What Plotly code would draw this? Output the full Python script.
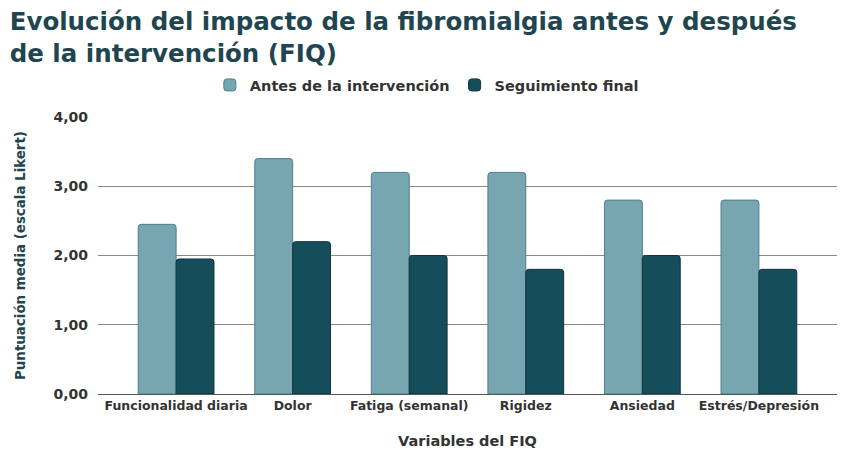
import plotly.graph_objects as go

categorias = ["Funcionalidad diaria", "Dolor", "Fatiga (semanal)", "Rigidez",
              "Ansiedad", "Estrés/Depresión"]
antes = [2.45, 3.4, 3.2, 3.2, 2.8, 2.8]
seguimiento = [1.95, 2.2, 2.0, 1.8, 2.0, 1.8]

fuente = "DejaVu Sans, Verdana, sans-serif"

fig = go.Figure()
fig.add_trace(go.Bar(
    x=categorias, y=antes, name="<b>Antes de la intervención</b>",
    marker=dict(color="#77A5B0", line=dict(color="#4F7F8A", width=1), cornerradius=3)
))
fig.add_trace(go.Bar(
    x=categorias, y=seguimiento, name="<b>Seguimiento final</b>",
    marker=dict(color="#154D5A", line=dict(color="#0E3540", width=1), cornerradius=3)
))

fig.update_layout(
    width=850, height=464,
    paper_bgcolor="white", plot_bgcolor="white",
    font=dict(family=fuente, color="#333333"),
    title=dict(
        text="<b>Evolución del impacto de la fibromialgia antes y después<br>de la intervención (FIQ)</b>",
        x=0.002, xanchor="left", y=0.952, yanchor="middle",
        font=dict(size=24.5, color="#1F4650")
    ),
    legend=dict(orientation="h", x=0.445, xanchor="center", y=1.1155, yanchor="middle",
                font=dict(size=14.5, color="#333333")),
    barmode="group", bargap=0.35, bargroupgap=0,
    margin=dict(l=90, r=21, t=109, b=78, autoexpand=False),
    separators=",.",
)
fig.update_xaxes(
    range=[-0.67, 5.67],
    title=dict(text="<b>Variables del FIQ</b>", font=dict(size=14.5, color="#333333"), standoff=23),
    tickfont=dict(size=12.5, color="#333333"),
    tickprefix="<b>", ticksuffix="</b>",
    showline=True, linecolor="#555555", linewidth=1,
)
fig.update_yaxes(
    range=[0, 4], dtick=1, tickformat=".2f",
    tickprefix="<b>", ticksuffix="</b>",
    ticklabelstandoff=9,
    showgrid=True, gridcolor="#888888", gridwidth=1,
    zeroline=False,
    tickfont=dict(size=14, color="#333333"),
    title=dict(text="<b>Puntuación media (escala Likert)</b>", font=dict(size=13.4, color="#1F4650"), standoff=24),
)

fig.write_html("out.html")
